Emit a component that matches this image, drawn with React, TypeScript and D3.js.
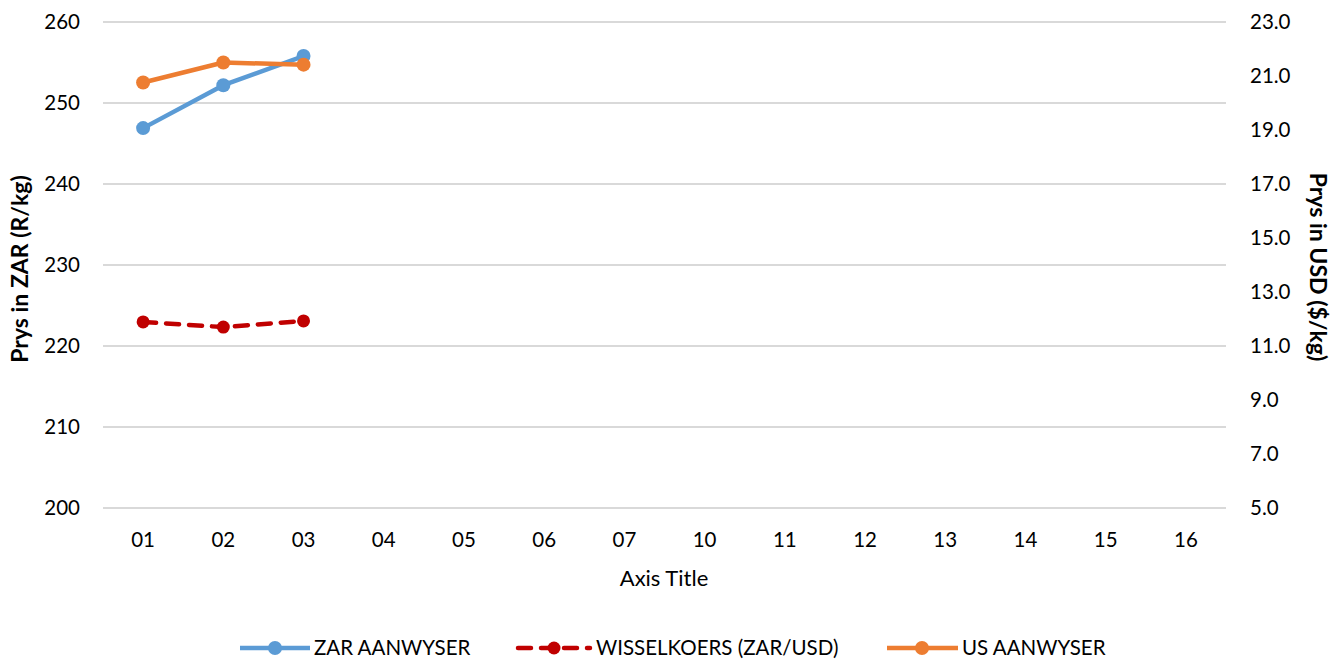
import React from "react";
import * as d3 from "d3";

const categories = ["01", "02", "03", "04", "05", "06", "07", "10", "11", "12", "13", "14", "15", "16"];
const zarValues = [246.9, 252.2, 255.8];
const usValues = [20.76, 21.5, 21.42];
const rateValues = [11.89, 11.7, 11.93];
const leftTicks = [200, 210, 220, 230, 240, 250, 260];
const rightTicks = [5, 7, 9, 11, 13, 15, 17, 19, 21, 23];

const W = 1341;
const H = 659;
const FONT = "Lato, 'Open Sans', sans-serif";

export default function App() {
  const left = 103;
  const right = 1226;
  const top = 22;
  const bottom = 508;

  const x = d3.scaleBand<string>().domain(categories).range([left, right]);
  const cx = (i: number) => (x(categories[i]) as number) + x.bandwidth() / 2;
  const yL = d3.scaleLinear().domain([200, 260]).range([bottom, top]);
  const yR = d3.scaleLinear().domain([5, 23]).range([bottom, top]);

  const lineL = d3.line<number>().x((_, i) => cx(i)).y((d) => yL(d));
  const lineR = d3.line<number>().x((_, i) => cx(i)).y((d) => yR(d));

  const blue = "#5b9bd5";
  const orange = "#ed7d31";
  const red = "#c00000";
  const fs = 20.5;

  return (
    <svg width={W} height={H} style={{ position: "absolute", left: 0, top: 0, background: "#fff" }} fontFamily={FONT}>
      {leftTicks.map((t) => (
        <line key={t} x1={left} x2={right} y1={yL(t)} y2={yL(t)} stroke="#d9d9d9" strokeWidth={2} />
      ))}
      {leftTicks.map((t) => (
        <text key={"l" + t} x={80} y={yL(t)} dy="0.35em" textAnchor="end" fontSize={fs} fill="#000">
          {t}
        </text>
      ))}
      {rightTicks.map((t) => (
        <text key={"r" + t} x={1250} y={yR(t)} dy="0.35em" textAnchor="start" fontSize={fs} fill="#000">
          {t.toFixed(1)}
        </text>
      ))}
      {categories.map((c, i) => (
        <text key={c} x={cx(i)} y={540} dy="0.35em" textAnchor="middle" fontSize={fs} fill="#000">
          {c}
        </text>
      ))}
      <text x={664} y={578} dy="0.35em" textAnchor="middle" fontSize={22} fill="#000">
        Axis Title
      </text>
      <text
        transform={`translate(20,269) rotate(-90)`}
        dy="0.35em"
        textAnchor="middle"
        fontSize={23}
        fontWeight="bold"
        fill="#000"
      >
        Prys in ZAR (R/kg)
      </text>
      <text
        transform={`translate(1318,267) rotate(90)`}
        dy="0.35em"
        textAnchor="middle"
        fontSize={23}
        fontWeight="bold"
        fill="#000"
      >
        Prys in USD ($/kg)
      </text>

      <path d={lineL(zarValues) || ""} fill="none" stroke={blue} strokeWidth={4.5} strokeLinejoin="round" />
      {zarValues.map((v, i) => (
        <circle key={"z" + i} cx={cx(i)} cy={yL(v)} r={7} fill={blue} />
      ))}
      <path
        d={lineR(rateValues) || ""}
        fill="none"
        stroke={red}
        strokeWidth={4.5}
        strokeDasharray="13 10"
        strokeLinecap="round"
      />
      {rateValues.map((v, i) => (
        <circle key={"w" + i} cx={cx(i)} cy={yR(v)} r={6.5} fill={red} />
      ))}
      <path d={lineR(usValues) || ""} fill="none" stroke={orange} strokeWidth={4.5} strokeLinejoin="round" />
      {usValues.map((v, i) => (
        <circle key={"u" + i} cx={cx(i)} cy={yR(v)} r={7} fill={orange} />
      ))}

      {/* Legend */}
      <g>
        <line x1={240} x2={310} y1={648} y2={648} stroke={blue} strokeWidth={4.5} />
        <circle cx={275} cy={648} r={7} fill={blue} />
        <text x={314} y={648} dy="0.35em" fontSize={fs} fill="#000">ZAR AANWYSER</text>

        <line x1={518} x2={590} y1={648} y2={648} stroke={red} strokeWidth={4.5} strokeDasharray="13 10" strokeLinecap="round" />
        <circle cx={554} cy={648} r={6.5} fill={red} />
        <text x={596} y={648} dy="0.35em" fontSize={fs} fill="#000">WISSELKOERS (ZAR/USD)</text>

        <line x1={887} x2={958} y1={648} y2={648} stroke={orange} strokeWidth={4.5} />
        <circle cx={922} cy={648} r={7} fill={orange} />
        <text x={962} y={648} dy="0.35em" fontSize={fs} fill="#000">US AANWYSER</text>
      </g>
    </svg>
  );
}
